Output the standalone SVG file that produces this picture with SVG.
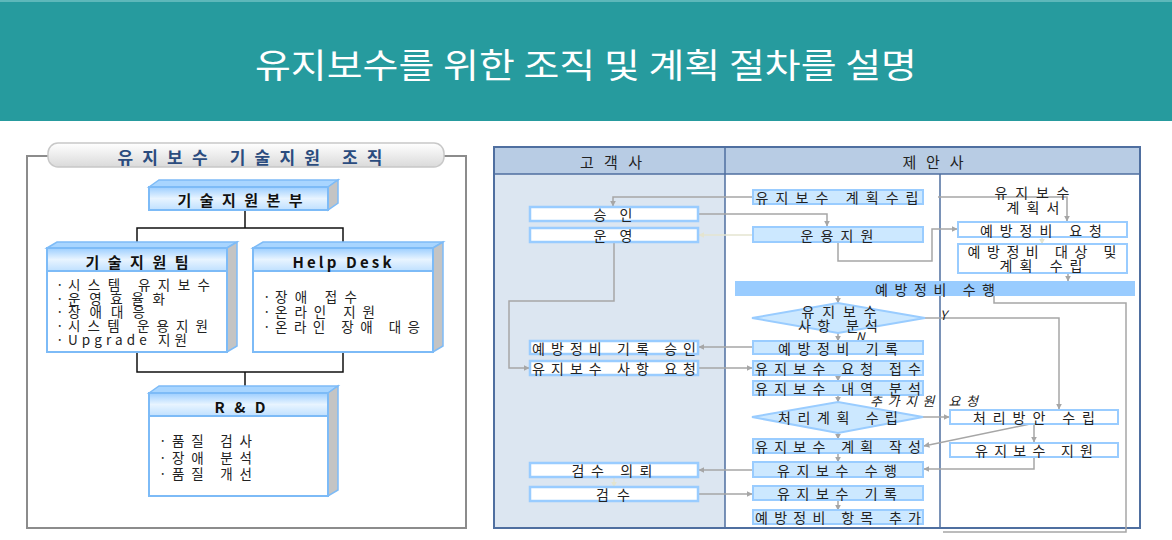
<svg xmlns="http://www.w3.org/2000/svg" width="1172" height="540" viewBox="0 0 1172 540">
<style>
text{font-family:"Noto Sans CJK KR","Noto Sans",sans-serif;dominant-baseline:central;fill:#222}
.t{font-size:14px;text-anchor:middle}
.b{font-size:13.5px}
.h{font-size:15px;font-weight:bold;text-anchor:middle;fill:#111}
.mid{fill:#CCE8FF;stroke:#99CCFF;stroke-width:2}
.cus{fill:#fff;stroke:#99CCFF;stroke-width:2.5}
.rgt{fill:#fff;stroke:#99CCFF;stroke-width:2}
.c{fill:none;stroke:#A6A6A6;stroke-width:1.5}
.cf{fill:none;stroke:#E4E4D0;stroke-width:1.5}
.k{fill:none;stroke:#111;stroke-width:1.5}
.top{fill:#A8D5FF;stroke:#7DBBF7;stroke-width:1.5}
.side{fill:#C4C4C4;stroke:#7DBBF7;stroke-width:1.5}
.hd{fill:url(#hg);stroke:#7DBBF7;stroke-width:2}
.bd{fill:#fff;stroke:#7DBBF7;stroke-width:2}
.lbl{font-size:13px;font-style:italic}
</style>
<defs>
<linearGradient id="hg" x1="0" y1="0" x2="0" y2="1">
<stop offset="0" stop-color="#9CCEFF"/><stop offset="0.5" stop-color="#E8F4FF"/><stop offset="1" stop-color="#BFE0FF"/>
</linearGradient>
<linearGradient id="pg" x1="0" y1="0" x2="0" y2="1">
<stop offset="0" stop-color="#FFFFFF"/><stop offset="1" stop-color="#DADADA"/>
</linearGradient>
<marker id="a" viewBox="0 0 10 10" refX="9" refY="5" markerWidth="6" markerHeight="6" orient="auto" markerUnits="userSpaceOnUse">
<path d="M0,0 L10,5 L0,10 z" fill="#A6A6A6"/>
</marker>
<marker id="af" viewBox="0 0 10 10" refX="9" refY="5" markerWidth="6" markerHeight="6" orient="auto" markerUnits="userSpaceOnUse">
<path d="M0,0 L10,5 L0,10 z" fill="#E4E4D0"/>
</marker>
</defs>
<rect width="1172" height="540" fill="#fff"/>
<g id="header">
<rect x="0" y="0" width="1172" height="121" fill="#269B9E"/>
<rect x="0" y="0" width="1172" height="2" fill="#5DB8BA"/>
<text x="586" y="63" style="font-size:34px;fill:#fff;text-anchor:middle" textLength="662" lengthAdjust="spacingAndGlyphs">유지보수를 위한 조직 및 계획 절차를 설명</text>
</g>

<g id="org-panel">
<rect x="27" y="156" width="439" height="372" fill="#fff" stroke="#8C8C8C" stroke-width="2"/>
<rect x="48" y="143" width="396" height="24" rx="10" fill="url(#pg)" stroke="#C8C8C8" stroke-width="1.5"/>
<text x="250" y="156" style="font-size:17px;font-weight:bold;fill:#2B4C7E;text-anchor:middle" textLength="265" lengthAdjust="spacing">유지보수 기술지원 조직</text>
</g>

<g id="org-connectors">
<path class="k" d="M245,210 V228 M137,248 V228 H343 V248"/>
<path class="k" d="M137,352 V372 H343 V352 M245,372 V386"/>
</g>

<g id="org-hq">
<polygon class="top" points="149,187 159,180 338,180 328,187"/>
<polygon class="side" points="328,187 338,180 338,203 328,210"/>
<rect class="hd" x="149" y="187" width="179" height="23"/>
<text class="h" x="240" y="199" textLength="125" lengthAdjust="spacing">기술지원본부</text>
</g>

<g id="org-team">
<polygon class="top" points="47,248 57,242 237,242 227,248"/>
<polygon class="side" points="227,248 237,242 237,346 227,352"/>
<rect class="bd" x="47" y="271" width="180" height="81"/>
<rect class="hd" x="47" y="248" width="180" height="23"/>
<text class="h" x="137" y="261" textLength="103" lengthAdjust="spacing">기술지원팀</text>
<text class="b" x="56" y="284">·</text><text class="b" x="68" y="284" textLength="142" lengthAdjust="spacing">시스템 유지보수</text>
<text class="b" x="56" y="298">·</text><text class="b" x="68" y="298" textLength="97" lengthAdjust="spacing">운영효율화</text>
<text class="b" x="56" y="311">·</text><text class="b" x="68" y="311" textLength="77" lengthAdjust="spacing">장애대응</text>
<text class="b" x="56" y="325">·</text><text class="b" x="68" y="325" textLength="140" lengthAdjust="spacing">시스템 운용지원</text>
<text class="b" x="56" y="339">·</text><text class="b" x="68" y="339" textLength="119" lengthAdjust="spacing">Upgrade 지원</text>
</g>

<g id="org-helpdesk">
<polygon class="top" points="253,248 263,242 443,242 433,248"/>
<polygon class="side" points="433,248 443,242 443,346 433,352"/>
<rect class="bd" x="253" y="271" width="180" height="81"/>
<rect class="hd" x="253" y="248" width="180" height="23"/>
<text class="h" x="342" y="261" textLength="99" lengthAdjust="spacing">Help Desk</text>
<text class="b" x="263" y="296">·</text><text class="b" x="275" y="296" textLength="82" lengthAdjust="spacing">장애 접수</text>
<text class="b" x="263" y="311">·</text><text class="b" x="275" y="311" textLength="100" lengthAdjust="spacing">온라인 지원</text>
<text class="b" x="263" y="326">·</text><text class="b" x="275" y="326" textLength="145" lengthAdjust="spacing">온라인 장애 대응</text>
</g>

<g id="org-rnd">
<polygon class="top" points="149,393 159,386 338,386 328,393"/>
<polygon class="side" points="328,393 338,386 338,490 328,496"/>
<rect class="bd" x="149" y="416" width="179" height="80"/>
<rect class="hd" x="149" y="393" width="179" height="23"/>
<text class="h" x="240" y="406" textLength="51" lengthAdjust="spacing">R &amp; D</text>
<text class="b" x="159" y="440">·</text><text class="b" x="172" y="440" textLength="80" lengthAdjust="spacing">품질 검사</text>
<text class="b" x="159" y="457">·</text><text class="b" x="172" y="457" textLength="80" lengthAdjust="spacing">장애 분석</text>
<text class="b" x="159" y="473">·</text><text class="b" x="172" y="473" textLength="80" lengthAdjust="spacing">품질 개선</text>
</g>

<g id="swimlanes">
<rect x="494" y="174" width="231" height="354" fill="#DCE6F1"/>
<rect x="725" y="174" width="415" height="354" fill="#fff"/>
<rect x="494" y="147" width="646" height="27" fill="#B8CCE4"/>
<path d="M494,174 H1140 M725,147 V528 M940,174 V528" stroke="#4F6FA0" stroke-width="1.5" fill="none"/>
<rect x="494" y="147" width="646" height="381" fill="none" stroke="#4F6FA0" stroke-width="2"/>
<text class="t" x="611" y="161" style="font-size:15px" textLength="62" lengthAdjust="spacing">고객사</text>
<text class="t" x="933" y="161" style="font-size:15px" textLength="61" lengthAdjust="spacing">제안사</text>
</g>

<g id="connectors">
<path class="c" d="M753,197 H613 V206" marker-end="url(#a)"/>
<path class="c" d="M698,214 H827 V226" marker-end="url(#a)"/>
<path class="cf" d="M753,235 H699" marker-end="url(#af)"/>
<path class="c" d="M614,242 V301 H509 V368 H529" marker-end="url(#a)"/>
<path class="c" d="M938,197 H1067 V221" marker-end="url(#a)"/>
<path class="c" d="M838,242 V261 H932 V229 H957" marker-end="url(#a)"/>
<path class="cf" d="M1042,237 V244" marker-end="url(#af)"/>
<path class="c" d="M1068,273 V281" marker-end="url(#a)"/>
<path class="c" d="M838,296 V303" marker-end="url(#a)"/>
<path class="c" d="M994,296 V303 H1126 V532 H943"/>
<path class="c" d="M925,318 H1059 V409" marker-end="url(#a)"/>
<path class="c" d="M838,333 V341" marker-end="url(#a)"/>
<path class="c" d="M753,347 H699" marker-end="url(#a)"/>
<path class="c" d="M698,368 H752" marker-end="url(#a)"/>
<path class="c" d="M838,375 V381" marker-end="url(#a)"/>
<path class="c" d="M838,395 V402" marker-end="url(#a)"/>
<path class="c" d="M923,417 H949" marker-end="url(#a)"/>
<path class="c" d="M838,433 V439" marker-end="url(#a)"/>
<path class="c" d="M1030,424 L924,446" marker-end="url(#a)"/>
<path class="c" d="M1034,424 V442" marker-end="url(#a)"/>
<path class="c" d="M1034,457 V469 H924" marker-end="url(#a)"/>
<path class="c" d="M838,453 V462" marker-end="url(#a)"/>
<path class="c" d="M753,470 H699" marker-end="url(#a)"/>
<path class="cf" d="M614,477 V487" marker-end="url(#af)"/>
<path class="c" d="M698,494 H752" marker-end="url(#a)"/>
<path class="c" d="M838,500 V510" marker-end="url(#a)"/>
<text class="lbl" x="940" y="314">Y</text>
<text class="lbl" x="856" y="335" style="font-size:12px">N</text>
<text class="lbl" x="870" y="400" textLength="108" lengthAdjust="spacing">추가지원 요청</text>
</g>

<g id="c-approve"><rect class="cus" x="530" y="207" width="168" height="14"/><text class="t" x="613" y="214" textLength="39" lengthAdjust="spacing">승인</text></g>
<g id="c-operate"><rect class="cus" x="530" y="228" width="168" height="14"/><text class="t" x="613" y="235" textLength="39" lengthAdjust="spacing">운영</text></g>
<g id="c-pm-approve"><rect class="cus" x="530" y="341" width="168" height="13"/><text class="t" x="614" y="347.5" textLength="164" lengthAdjust="spacing">예방정비 기록 승인</text></g>
<g id="c-request"><rect class="cus" x="530" y="361" width="168" height="14"/><text class="t" x="614" y="368" textLength="164" lengthAdjust="spacing">유지보수 사항 요청</text></g>
<g id="c-inspect-req"><rect class="cus" x="530" y="463" width="168" height="14"/><text class="t" x="612" y="470" textLength="81" lengthAdjust="spacing">검수 의뢰</text></g>
<g id="c-inspect"><rect class="cus" x="530" y="487" width="168" height="14"/><text class="t" x="613" y="494" textLength="34" lengthAdjust="spacing">검수</text></g>

<g id="m-plan"><rect class="mid" x="753" y="190" width="170" height="14"/><text class="t" x="837" y="197" textLength="163" lengthAdjust="spacing">유지보수 계획수립</text></g>
<g id="m-opsupport"><rect class="mid" x="753" y="227" width="170" height="15"/><text class="t" x="837" y="234.5" textLength="73" lengthAdjust="spacing">운용지원</text></g>
<g id="m-pm-exec"><rect x="735" y="281" width="400" height="15" fill="#99CCFF"/><text class="t" x="935" y="288.5" textLength="120" lengthAdjust="spacing">예방정비 수행</text></g>
<g id="m-analyze"><polygon class="mid" points="752,318 838,303 925,318 838,333"/><text class="t" x="839" y="311" textLength="75" lengthAdjust="spacing">유지보수</text><text class="t" x="838" y="325" textLength="80" lengthAdjust="spacing">사항 분석</text></g>
<g id="m-pm-record"><rect class="mid" x="753" y="341" width="170" height="13"/><text class="t" x="838" y="347.5" textLength="120" lengthAdjust="spacing">예방정비 기록</text></g>
<g id="m-receive"><rect class="mid" x="753" y="361" width="170" height="14"/><text class="t" x="838" y="368" textLength="166" lengthAdjust="spacing">유지보수 요청 접수</text></g>
<g id="m-detail"><rect class="mid" x="753" y="381" width="170" height="14"/><text class="t" x="838" y="388" textLength="166" lengthAdjust="spacing">유지보수 내역 분석</text></g>
<g id="m-handle"><polygon class="mid" points="752,417 838,402 923,417 838,433"/><text class="t" x="838" y="417" textLength="120" lengthAdjust="spacing">처리계획 수립</text></g>
<g id="m-write"><rect class="mid" x="753" y="439" width="170" height="14"/><text class="t" x="838" y="446" textLength="166" lengthAdjust="spacing">유지보수 계획 작성</text></g>
<g id="m-perform"><rect class="mid" x="753" y="462" width="170" height="15"/><text class="t" x="837" y="469.5" textLength="120" lengthAdjust="spacing">유지보수 수행</text></g>
<g id="m-record"><rect class="mid" x="753" y="486" width="170" height="14"/><text class="t" x="837" y="493" textLength="120" lengthAdjust="spacing">유지보수 기록</text></g>
<g id="m-add"><rect class="mid" x="753" y="510" width="170" height="14"/><text class="t" x="838" y="517" textLength="166" lengthAdjust="spacing">예방정비 항목 추가</text></g>

<g id="r-doc"><text class="t" x="1032" y="192" textLength="75" lengthAdjust="spacing">유지보수</text><text class="t" x="1033" y="207" textLength="53" lengthAdjust="spacing">계획서</text></g>
<g id="r-pm-req"><rect class="rgt" x="958" y="222" width="169" height="15"/><text class="t" x="1041" y="229.5" textLength="122" lengthAdjust="spacing">예방정비 요청</text></g>
<g id="r-pm-plan"><rect class="rgt" x="958" y="244" width="169" height="29"/><text class="t" x="1042" y="251" textLength="149" lengthAdjust="spacing">예방정비 대상 및</text><text class="t" x="1041" y="265" textLength="83" lengthAdjust="spacing">계획 수립</text></g>
<g id="r-solution"><rect class="rgt" x="950" y="410" width="168" height="14"/><text class="t" x="1034" y="417" textLength="122" lengthAdjust="spacing">처리방안 수립</text></g>
<g id="r-support"><rect class="rgt" x="950" y="443" width="168" height="14"/><text class="t" x="1034" y="450" textLength="118" lengthAdjust="spacing">유지보수 지원</text></g>
</svg>
